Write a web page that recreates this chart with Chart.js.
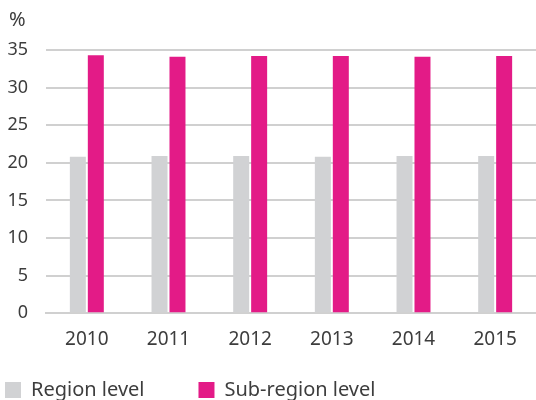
<!DOCTYPE html>
<html>
<head>
<meta charset="utf-8">
<script src="https://cdn.jsdelivr.net/npm/chart.js@4.4.0/dist/chart.umd.min.js"></script>
<style>
    html, body { margin: 0; padding: 0; background: #fff; overflow: hidden; }
    #wrap { width: 536px; height: 400px; position: relative; }
</style>
</head>
<body>
<div id="wrap"><canvas id="shareChart"></canvas></div>
<script>
    // Values
    const years = ['2010', '2011', '2012', '2013', '2014', '2015'];
    const regionLevel = [20.8, 20.9, 20.9, 20.8, 20.9, 20.9];
    const subRegionLevel = [34.3, 34.1, 34.2, 34.2, 34.1, 34.2];
    const yTicks = [0, 5, 10, 15, 20, 25, 30, 35];
    const unitLabel = '%';

    const textColor = '#3d3d3d';
    const fontFamily = "'Noto Sans', 'Open Sans', sans-serif";

    // draws the unit label above the y axis
    const unitPlugin = {
        id: 'unitLabel',
        afterDraw(chart) {
            const c = chart.ctx;
            c.save();
            c.fillStyle = textColor;
            c.font = `20px ${fontFamily}`;
            c.textAlign = 'left';
            c.textBaseline = 'middle';
            c.fillText(unitLabel, 9, 20);
            c.restore();
        }
    };

    const ctx = document.getElementById('shareChart').getContext('2d');
    const shareChart = new Chart(ctx, {
        type: 'bar',
        data: {
            labels: years,
            datasets: [{
                label: 'Region level',
                data: regionLevel,
                backgroundColor: '#d1d2d4',
                barPercentage: 0.89,
                categoryPercentage: 0.44
            }, {
                label: 'Sub-region level',
                data: subRegionLevel,
                backgroundColor: '#e31b87',
                barPercentage: 0.89,
                categoryPercentage: 0.44
            }]
        },
        plugins: [unitPlugin],
        options: {
            responsive: true,
            maintainAspectRatio: false,
            animation: false,
            layout: {
                padding: { left: 3, right: 0, top: 50, bottom: -10 }
            },
            plugins: {
                legend: {
                    position: 'bottom',
                    align: 'start',
                    labels: {
                        color: textColor,
                        font: { family: fontFamily, size: 20 },
                        boxWidth: 16,
                        boxHeight: 16,
                        padding: 2,
                        generateLabels: (chart) => {
                            const items = Chart.defaults.plugins.legend.labels.generateLabels(chart);
                            // widen the gap between the two entries
                            items[0].text = items[0].text + '          ';
                            return items;
                        }
                    }
                },
                tooltip: { enabled: false }
            },
            scales: {
                x: {
                    grid: { display: false, drawTicks: false },
                    border: { color: '#d0d0d0', width: 2 },
                    ticks: {
                        color: textColor,
                        font: { family: fontFamily, size: 19 },
                        padding: 15
                    },
                    afterFit: (scale) => { scale.height += 12; }
                },
                y: {
                    min: 0,
                    max: 35,
                    afterBuildTicks: (axis) => {
                        axis.ticks = yTicks.map(v => ({ value: v }));
                    },
                    afterFit: (scale) => { scale.width = 43; },
                    grid: { color: '#d0d0d0', lineWidth: 2, drawTicks: false },
                    border: { display: false },
                    ticks: {
                        color: textColor,
                        font: { family: fontFamily, size: 18 },
                        padding: 18
                    }
                }
            }
        }
    });
</script>
</body>
</html>
